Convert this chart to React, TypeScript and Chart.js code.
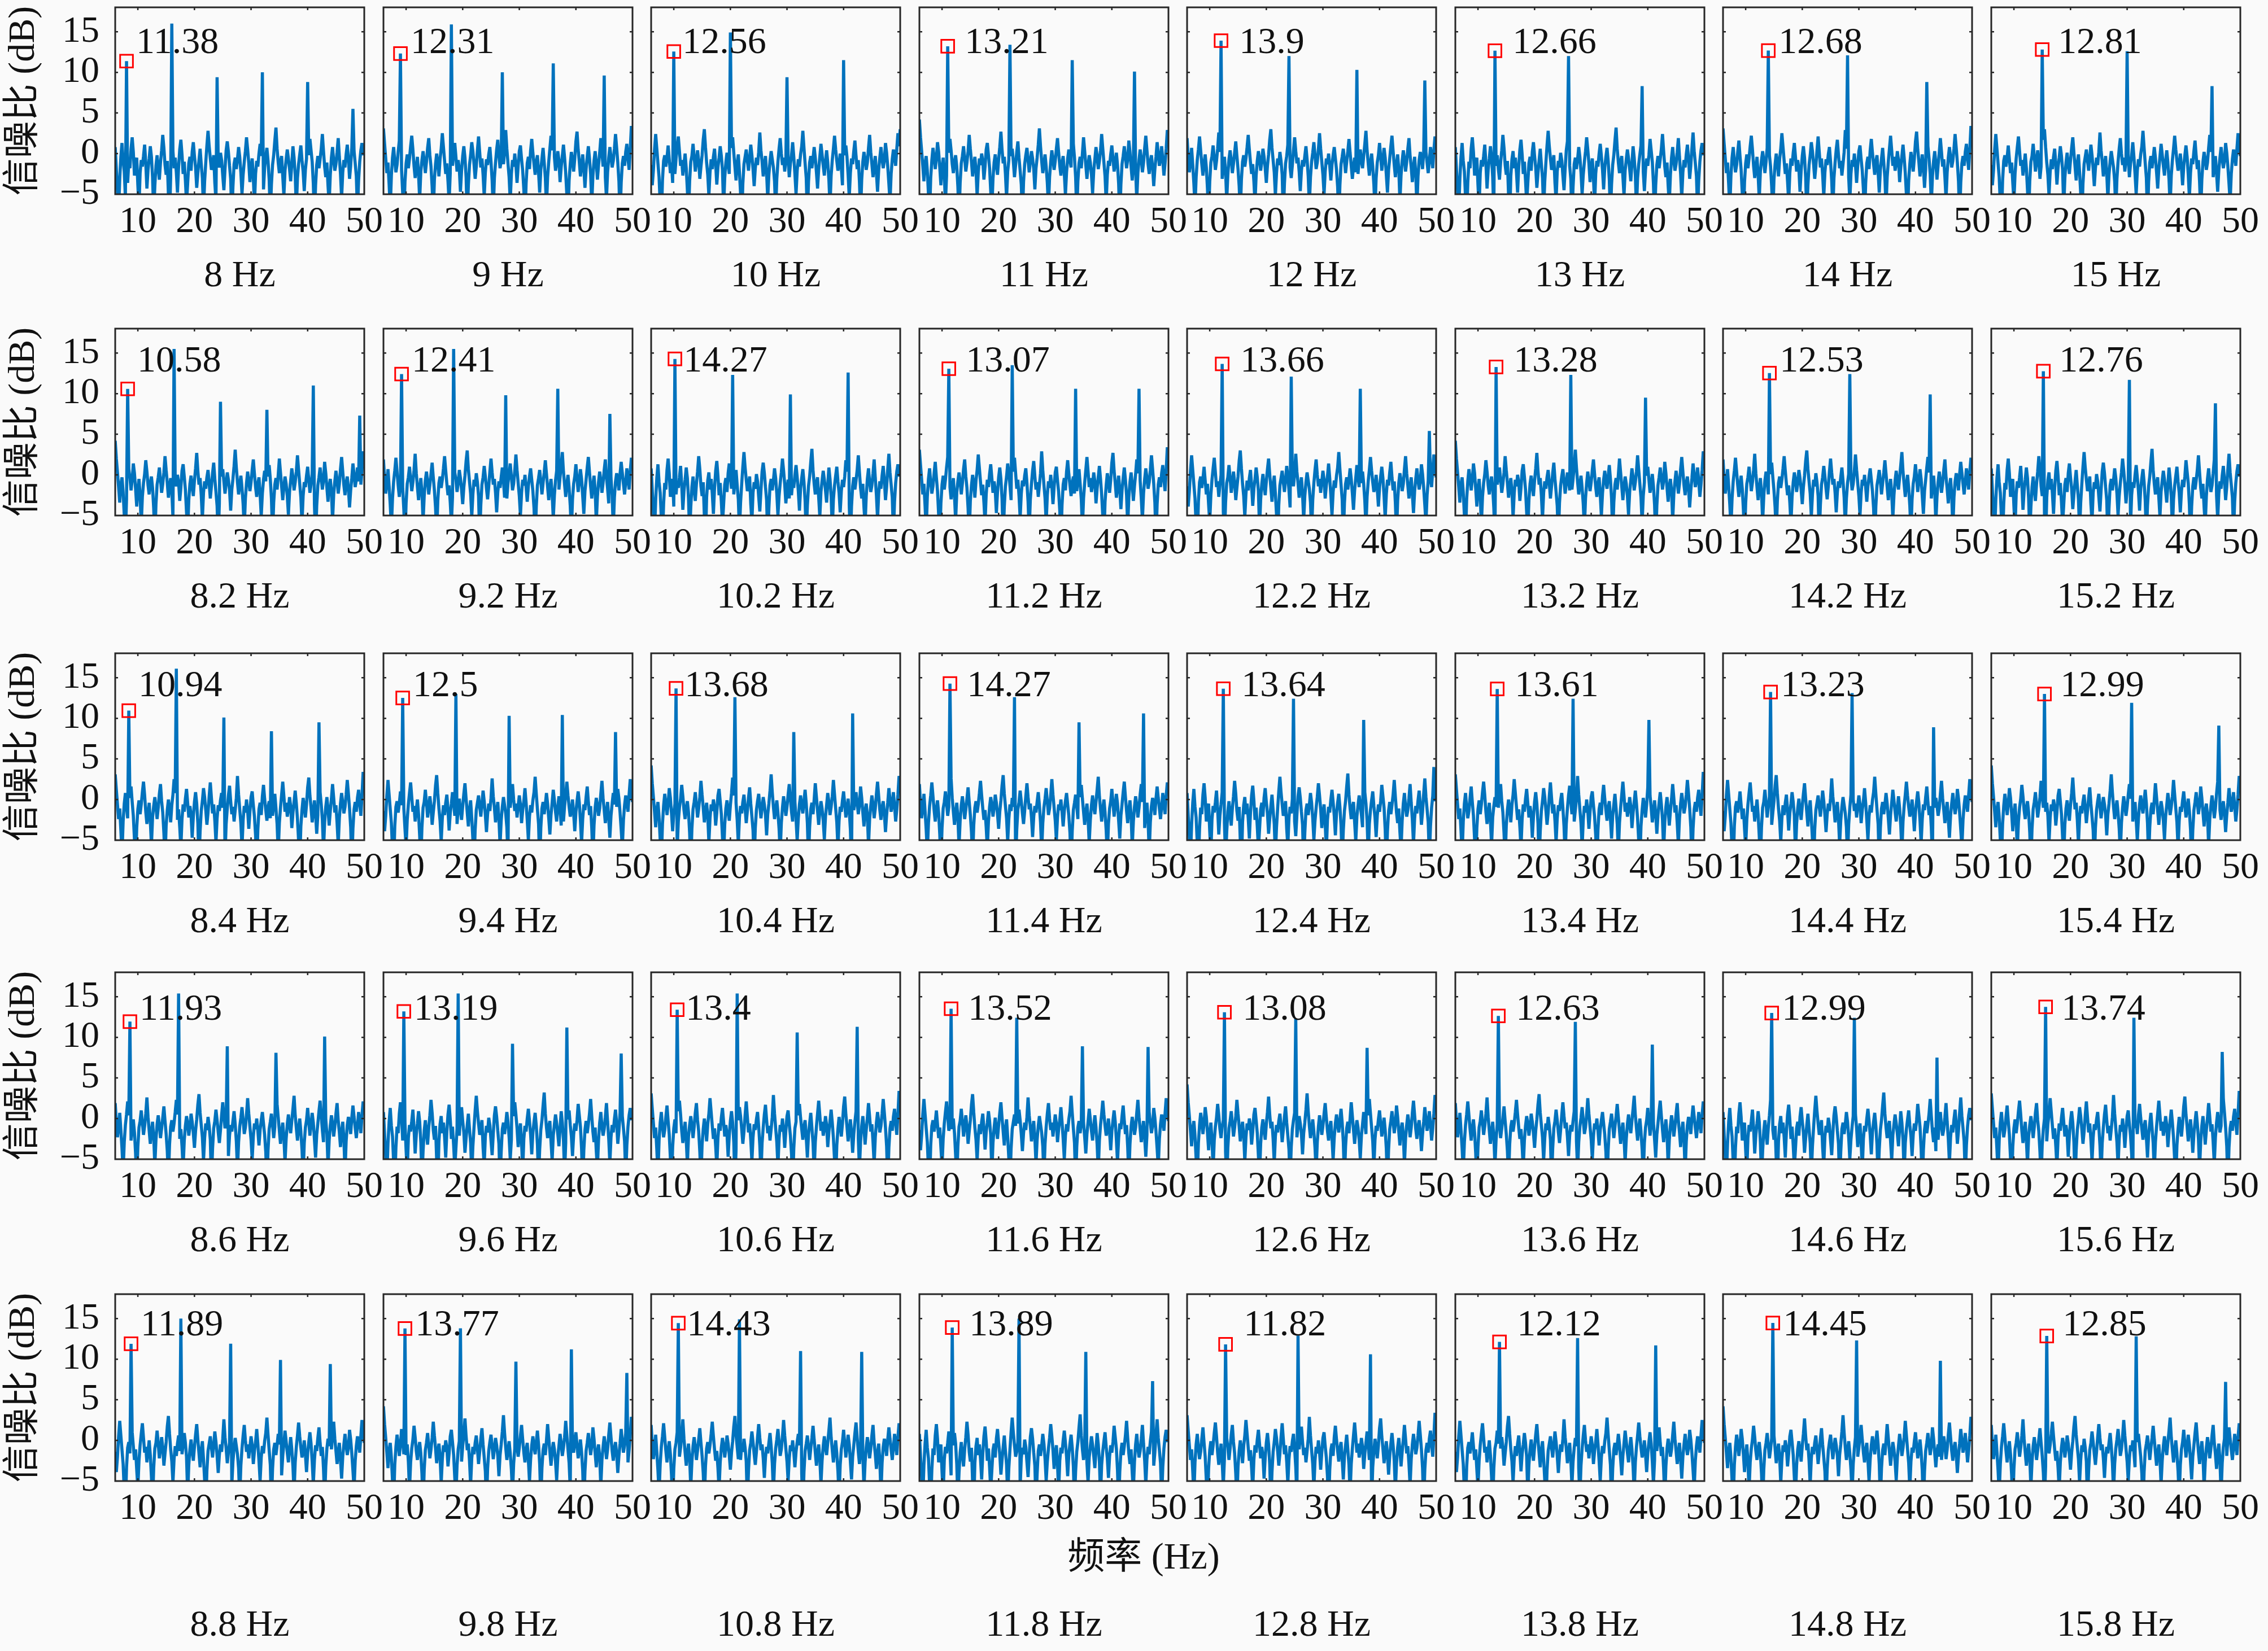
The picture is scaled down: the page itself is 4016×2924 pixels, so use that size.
import React, { useEffect, useRef } from "react";
import { Chart, registerables } from "chart.js";

Chart.register(...registerables);

// ---------------- DATA ----------------
const STIM_FREQS: number[][] = [
  [8, 9, 10, 11, 12, 13, 14, 15],
  [8.2, 9.2, 10.2, 11.2, 12.2, 13.2, 14.2, 15.2],
  [8.4, 9.4, 10.4, 11.4, 12.4, 13.4, 14.4, 15.4],
  [8.6, 9.6, 10.6, 11.6, 12.6, 13.6, 14.6, 15.6],
  [8.8, 9.8, 10.8, 11.8, 12.8, 13.8, 14.8, 15.8],
];

// SNR (dB) at the stimulation frequency (marked with the red square)
const FUND_SNR: number[][] = [
  [11.38, 12.31, 12.56, 13.21, 13.9, 12.66, 12.68, 12.81],
  [10.58, 12.41, 14.27, 13.07, 13.66, 13.28, 12.53, 12.76],
  [10.94, 12.5, 13.68, 14.27, 13.64, 13.61, 13.23, 12.99],
  [11.93, 13.19, 13.4, 13.52, 13.08, 12.63, 12.99, 13.74],
  [11.89, 13.77, 14.43, 13.89, 11.82, 12.12, 14.45, 12.85],
];

// SNR (dB) of the harmonics 2f, 3f, 4f, ...
const HARMONIC_SNR: number[][][] = [
  [[16.0, 9.4, 10.0, 8.8, 5.5], [15.9, 10.0, 11.1, 9.6], [14.9, 9.4, 11.5, 3.0], [13.4, 11.5, 10.1], [12.0, 10.3, 9.0], [12.0, 8.3], [12.1, 8.8], [12.6, 8.3]],
  [[15.5, 9.0, 8.0, 11.0, 7.3], [15.5, 9.8, 10.6, 7.5], [12.3, 9.9, 12.6], [13.5, 10.6, 10.6], [12.1, 10.6, 5.4], [12.3, 9.5], [12.4, 9.9], [11.7, 8.8]],
  [[16.1, 10.1, 8.4, 9.5], [13.0, 10.3, 10.4, 8.3], [12.6, 8.3, 10.6], [12.6, 9.5, 10.6], [12.4, 9.8, 4.0], [12.4, 9.8], [13.1, 8.9], [11.9, 9.1]],
  [[15.4, 8.9, 8.1, 10.1], [15.4, 9.2, 11.2, 8.0], [15.4, 10.6, 11.3], [12.4, 8.9, 8.8], [12.3, 8.7], [11.9, 9.1], [12.4, 7.5], [12.4, 8.2]],
  [[15.0, 11.9, 9.9, 9.4], [13.8, 9.7, 11.2, 8.3], [14.9, 11.0, 10.9], [15.0, 10.9, 7.3], [12.9, 10.6], [12.6, 11.7], [12.3, 9.8], [12.8, 7.2]],
];

// Background SNR spectra (dB), one value every 0.2 Hz from 6 Hz to 50 Hz
const FREQ_START = 6;
const FREQ_STEP = 0.2;

const NOISE_A = [
  0.8, -1.9, -4.6, -7.2, -3.1, -0.4, 1.3, -0.9, -2.2, -5.4,
  -8.0, -3.6, -1.0, -1.8, 0.6, 2.0, 0.2, -2.7, -1.3, -0.5,
  -3.9, -6.7, -2.4, -0.8, -1.6, -0.3, 1.1, -1.2, -4.3, -2.0,
  -0.6, 0.9, -0.4, -2.9, -7.5, -4.0, -1.5, -0.2, -1.9, -3.2,
  -1.1, 0.4, 2.3, 0.7, -1.4, -2.6, -0.9, -5.1, -8.3, -2.8,
  -0.7, 0.3, -1.8, -0.5, -2.3, -4.8, -1.6, 0.5, 1.7, -0.1,
  -2.5, -1.0, -3.3, -6.1, -3.7, -1.2, -0.4, -2.1, 0.2, 1.4,
  -0.3, -1.7, -4.2, -2.4, -0.8, 0.6, -1.3, -3.0, -7.0, -3.4,
  -1.1, 1.0, 2.8, 0.9, -0.6, -2.0, -1.4, -0.2, -3.6, -5.8,
  -2.2, -0.9, -1.7, 0.1, -0.8, -2.7, -4.5, -1.9, 0.4, 1.5,
  0.2, -1.5, -3.1, -8.1, -4.1, -1.3, -0.5, -1.9, -0.7, 0.8,
  -0.4, -2.3, -5.0, -2.6, -1.0, 0.3, 2.0, 0.5, -1.2, -3.5,
  -1.8, -0.6, -2.9, -6.4, -2.5, -0.9, -1.6, 0.0, 1.2, -0.3,
  -2.0, -4.4, -1.7, -0.4, 0.7, -0.9, -3.2, -7.7, -3.8, -1.4,
  -0.2, 1.6, 3.2, 0.6, -1.1, -2.4, -1.0, -0.3, -2.8, -5.2,
  -2.1, -0.7, 0.5, -0.6, -1.9, -3.4, -1.2, 0.9, -0.5, -2.6,
  -6.9, -3.0, -1.3, -0.1, 1.0, -0.8, -2.2, -4.6, -2.0, -0.6,
  -1.5, -0.2, 1.8, 0.4, -1.0, -3.7, -8.4, -3.9, -1.4, -0.3,
  -1.8, -0.7, 0.6, 2.4, 0.3, -1.6, -2.9, -1.1, -4.0, -6.2,
  -2.6, -0.5, 0.8, -0.9, -2.1, -1.3, 0.2, 1.9, -0.4, -2.5,
  -5.5, -2.3, -0.8, -1.7, -0.1, 1.1, -0.6, -3.1, -1.5, 0.7,
  2.6, 0.3, -1.2, -2.8, -7.3, -3.3, -1.0, 0.4, 1.3, -0.2,
  0.9,
];
const NOISE_B = [
  3.1, 1.2, -0.6, -2.4, -1.1, -3.8, -6.9, -2.7, -0.5, 0.8,
  -0.9, -2.3, -1.4, 0.2, 1.6, -0.3, -2.0, -4.9, -8.2, -3.5,
  -1.2, -0.1, -1.8, -0.6, 0.9, 2.2, 0.5, -1.5, -3.0, -1.7,
  -0.4, -2.6, -5.7, -2.2, -0.8, 0.3, -0.9, -2.4, -1.0, 0.7,
  1.9, -0.2, -1.6, -4.1, -7.6, -3.2, -1.3, 0.0, -1.1, -2.8,
  -0.7, 0.6, 2.5, 0.8, -0.9, -2.5, -1.2, -3.4, -6.0, -2.4,
  -0.6, -1.5, 0.1, 1.3, -0.4, -2.2, -0.8, -1.9, -4.7, -2.1,
  -0.3, 0.9, -0.5, -2.9, -8.0, -3.9, -1.4, -0.2, 1.4, 0.3,
  -1.3, -3.1, -1.6, 0.4, 2.1, 0.2, -1.7, -0.6, -2.6, -5.3,
  -2.3, -0.7, -1.4, -0.1, 0.8, -1.0, -3.3, -7.1, -3.0, -1.1,
  0.5, 1.7, -0.2, -1.8, -0.9, -2.7, -1.3, 0.2, 2.9, 0.6,
  -1.2, -2.9, -5.9, -2.5, -0.8, -1.6, 0.0, -1.4, -3.6, -1.5,
  0.3, 1.0, -0.7, -2.1, -4.4, -8.6, -3.7, -1.2, -0.4, -1.9,
  0.4, 1.8, 0.1, -1.3, -2.6, -1.0, -0.2, -2.3, -4.8, -2.0,
  -0.6, 0.7, -1.1, -3.0, -6.6, -2.9, -1.0, 0.6, 2.2, 0.4,
  -1.5, -0.4, -2.1, -1.2, 0.3, -0.8, -3.5, -1.7, -0.3, 1.1,
  -0.5, -2.4, -5.1, -7.9, -3.3, -1.3, 0.2, -0.9, -2.2, -0.6,
  1.5, 2.7, 0.5, -1.0, -2.8, -1.5, -0.1, -1.8, -4.2, -1.9,
  -0.4, 0.9, -0.6, -2.5, -6.3, -2.8, -0.9, 0.3, -1.2, -3.2,
  -1.4, 0.1, 1.9, 0.2, -1.6, -0.7, -2.9, -5.6, -2.3, -0.5,
  0.8, -0.4, -1.7, -0.9, 0.6, 2.4, 0.7, -1.1, -3.4, -8.1,
  -3.6, -1.2, -0.3, -1.5, 0.2, 1.2, -0.6, -2.0, 0.5, 3.4,
  1.8,
];
const NOISE_C = [
  -1.4, -3.9, -2.0, 0.5, 2.4, 0.6, -1.2, -2.9, -6.3, -8.4,
  -3.3, -0.9, -0.2, -1.6, -0.5, 1.0, -0.7, -2.4, -1.1, -3.6,
  -5.9, -2.5, -0.6, 0.8, 2.1, 0.3, -1.5, -0.8, -2.7, -1.3,
  0.0, -1.8, -4.5, -7.8, -3.4, -1.0, -0.3, 1.2, -0.4, -2.2,
  -1.0, 0.4, -0.9, -3.1, -1.6, -0.2, 1.7, 3.0, 0.8, -1.1,
  -2.6, -5.2, -2.3, -0.7, -1.9, -0.4, 0.6, -1.3, -3.8, -1.7,
  -0.5, 0.9, -0.3, -2.0, -6.8, -3.0, -1.1, 0.1, -1.4, -2.5,
  -0.8, 0.7, 2.0, 0.1, -1.6, -3.3, -1.2, -0.1, -2.3, -4.9,
  -8.5, -3.7, -1.3, -0.4, 0.5, -0.9, -2.1, -0.6, 1.1, -0.2,
  -1.9, -4.0, -1.8, -0.5, -1.4, 0.2, 2.6, 0.4, -1.0, -2.8,
  -1.5, -0.3, -2.4, -5.6, -2.6, -0.9, 0.3, -0.7, -1.7, -3.4,
  -7.2, -3.1, -1.0, 0.6, 1.9, 0.0, -1.4, -0.5, -2.2, -0.8,
  0.5, -0.6, -2.9, -1.3, -0.2, 1.4, -0.4, -2.5, -5.0, -2.1,
  -0.7, -1.6, -0.1, 0.9, 2.8, 0.7, -1.2, -3.0, -8.0, -3.5,
  -1.1, -0.3, -1.8, -0.6, 0.8, -0.5, -2.3, -4.3, -1.9, -0.4,
  1.2, -0.1, -1.5, -2.7, -1.0, 0.4, -1.1, -3.2, -6.5, -2.7,
  -0.8, 0.6, 2.2, 0.5, -0.9, -2.1, -1.4, 0.0, -1.7, -3.9,
  -1.6, -0.2, 1.0, -0.4, -2.6, -5.4, -2.4, -0.6, -1.3, 0.3,
  1.6, -0.3, -1.9, -0.8, -3.5, -7.4, -3.2, -1.0, 0.2, -0.7,
  -2.0, -1.1, 0.7, 2.3, 0.2, -1.3, -2.9, -1.5, -0.3, -2.4,
  -4.7, -2.0, -0.5, 0.8, -0.6, -1.8, -0.9, 1.3, 0.1, -1.6,
  -3.7, -6.0, -2.5, -0.7, 0.5, -0.4, -1.5, 0.6, 2.5, 0.9,
  -0.3,
];
const NOISE_D = [
  4.2, 2.0, 0.3, -1.5, -3.4, -1.2, -0.3, -2.1, -5.0, -7.7,
  -3.0, -0.8, 0.7, -0.4, -1.9, -0.6, 1.4, 0.2, -1.7, -3.9,
  -1.8, -0.5, -2.6, -6.2, -2.7, -1.0, 0.1, 1.8, 0.4, -1.3,
  -2.4, -1.0, -0.2, -1.6, -4.1, -8.2, -3.6, -1.2, -0.3, 0.9,
  -0.6, -2.2, -1.1, 0.3, 2.3, 0.6, -1.0, -2.8, -1.5, -0.4,
  -2.0, -5.3, -2.3, -0.6, -1.4, 0.0, -0.9, -3.2, -1.6, 0.5,
  1.3, -0.2, -1.8, -4.6, -7.0, -3.1, -1.1, -0.1, -1.5, -2.6,
  -0.7, 0.8, 2.7, 0.5, -1.2, -0.4, -2.5, -5.5, -2.2, -0.8,
  -1.7, -0.3, 0.6, -1.0, -2.9, -1.4, 0.2, 1.5, -0.5, -2.1,
  -3.8, -8.0, -3.5, -1.3, -0.2, 0.7, -0.8, -2.3, -1.0, 0.3,
  -0.6, -1.9, -4.4, -1.8, -0.5, 1.1, 3.1, 0.9, -0.9, -2.4,
  -1.3, -0.1, -1.6, -3.6, -6.6, -2.9, -1.0, 0.4, -0.7, -2.0,
  -0.9, 0.6, 1.9, 0.1, -1.5, -2.7, -1.1, -0.3, -2.4, -5.1,
  -2.3, -0.6, 0.5, -0.8, -1.7, -0.2, 1.2, -0.5, -2.9, -7.5,
  -3.4, -1.2, -0.4, -1.8, 0.0, 2.0, 0.3, -1.4, -3.1, -1.5,
  -0.2, -1.1, -2.6, -4.9, -2.1, -0.7, 0.8, -0.3, -1.9, -0.9,
  0.4, 2.4, 0.6, -1.1, -2.8, -6.0, -2.6, -0.9, -1.5, -0.1,
  1.0, -0.6, -2.2, -1.2, 0.1, -1.4, -3.7, -8.3, -3.8, -1.3,
  -0.3, 0.9, -0.4, -1.8, -0.7, 1.6, 0.2, -1.6, -3.3, -1.4,
  -0.5, -2.0, -5.7, -2.4, -0.8, 0.5, -0.6, -2.3, -1.1, 0.7,
  2.2, 0.4, -1.3, -2.5, -1.0, -0.2, -1.7, -4.0, -1.9, -0.4,
  1.4, 0.0, -1.5, -0.6, 0.9, -0.8, -2.7, -1.2, 0.6, 2.9,
  1.1,
];
const NOISE_E = [
  1.9, -0.5, -2.3, -1.0, 0.7, -1.4, -3.7, -6.6, -2.9, -0.8,
  0.5, 2.1, 0.4, -1.3, -2.7, -1.2, -0.1, -1.7, -4.3, -8.1,
  -3.5, -1.1, -0.3, 1.0, -0.5, -2.0, -0.9, 0.6, 2.6, 0.2,
  -1.5, -3.1, -1.6, -0.4, -2.2, -5.8, -2.6, -0.7, 0.4, -0.8,
  -2.4, -1.2, 0.1, 1.5, -0.3, -1.9, -4.0, -7.4, -3.2, -1.0,
  -0.2, -1.6, -0.6, 0.8, 2.3, 0.5, -1.1, -2.5, -1.3, -3.4,
  -6.1, -2.7, -0.9, 0.3, -0.6, -2.1, -1.0, 0.6, -0.4, -1.8,
  -3.6, -1.5, -0.1, 1.7, 3.0, 0.7, -0.8, -2.3, -5.2, -2.4,
  -0.6, -1.4, 0.2, -0.9, -2.6, -7.9, -3.7, -1.2, -0.3, 1.1,
  -0.2, -1.7, -3.0, -1.4, 0.4, 2.0, 0.3, -1.2, -0.5, -2.2,
  -4.6, -2.1, -0.8, -1.6, -0.3, 0.9, -0.7, -2.8, -6.4, -2.9,
  -1.0, 0.1, 1.4, -0.2, -1.9, -1.1, 0.5, 2.5, 0.6, -1.0,
  -2.6, -5.0, -2.2, -0.6, -1.3, 0.0, -1.5, -3.3, -1.4, -0.2,
  0.8, -0.6, -2.0, -4.1, -8.5, -3.9, -1.3, -0.4, 0.6, -0.8,
  -2.4, -1.0, 0.3, 1.8, 0.1, -1.5, -3.1, -1.6, -0.5, -2.3,
  -5.4, -2.5, -0.7, 0.5, -0.9, -1.8, -0.3, 1.2, 2.8, 0.4,
  -1.2, -2.7, -1.2, 0.0, -1.6, -3.8, -7.1, -3.0, -1.1, -0.2,
  1.3, -0.4, -2.1, -0.8, 0.7, -0.5, -2.6, -4.8, -2.0, -0.6,
  0.9, 2.2, 0.3, -1.4, -2.9, -1.3, -0.1, -1.9, -5.9, -2.7,
  -0.9, 0.4, -0.7, -2.2, -1.0, 0.6, 1.9, -0.3, -1.7, -3.5,
  -1.6, -0.4, -2.5, -6.7, -2.8, -0.8, 0.2, -0.6, -1.9, 0.1,
  1.6, 0.2, -1.1, -2.4, -0.9, 0.8, -0.5, -1.8, 0.4, 2.1,
  0.7,
];
const NOISE_SETS = [NOISE_A, NOISE_B, NOISE_C, NOISE_D, NOISE_E];
const NOISE_OF_CELL: number[][] = [
  [0, 1, 2, 3, 4, 0, 1, 2],
  [3, 4, 0, 1, 2, 3, 4, 0],
  [1, 2, 3, 4, 0, 1, 2, 3],
  [4, 0, 1, 2, 3, 4, 0, 1],
  [2, 3, 4, 0, 1, 2, 3, 4],
];

const X_MIN = 6;
const X_MAX = 50;
const Y_MIN = -5;
const Y_MAX = 18;
const X_TICKS = [10, 20, 30, 40, 50];
const Y_TICKS = [-5, 0, 5, 10, 15];
const Y_LABEL = "信噪比 (dB)";
const X_LABEL = "频率 (Hz)";

// ---------------- LAYOUT / STYLE ----------------
const FONT = '"Liberation Serif", "Noto Sans CJK SC", serif';
const FONT_SIZE = 66;
const TEXT_COLOR = "#111111";
const AXIS_COLOR = "#262626";
const LINE_COLOR = "#0072BD";
const MARKER_COLOR = "#FF0000";
const PLOT_LEFTS = [204, 679, 1153, 1628, 2102, 2577, 3051, 3526];
const PLOT_TOPS = [13, 582, 1157, 1722, 2292];
const PLOT_W = 441;
const PLOT_H = 331;
const LABEL_DX = [1.7, 1.8, 1.5, 3.0, 3.2, 3.1, 1.8, 2.8];
const TICK_LEN = 5;

Chart.defaults.font.family = FONT;

type Pt = { x: number; y: number };

function buildSpectrum(row: number, col: number): Pt[] {
  const f = STIM_FREQS[row][col];
  const noise = NOISE_SETS[NOISE_OF_CELL[row][col]];
  const peaks: Pt[] = [{ x: f, y: FUND_SNR[row][col] }];
  HARMONIC_SNR[row][col].forEach((v, i) => {
    const hx = f * (i + 2);
    if (hx <= X_MAX + 1e-9) peaks.push({ x: hx, y: v });
  });
  const pts: Pt[] = [];
  noise.forEach((v, i) => {
    const x = FREQ_START + i * FREQ_STEP;
    if (x > X_MAX + 1e-9) return;
    if (peaks.some((p) => Math.abs(p.x - x) < 0.09)) return;
    pts.push({ x, y: v });
  });
  return [...pts, ...peaks].sort((a, b) => a.x - b.x);
}

function Panel({ row, col }: { row: number; col: number }) {
  const ref = useRef<HTMLCanvasElement>(null);
  const firstCol = col === 0;
  const lastRow = row === PLOT_TOPS.length - 1;
  const padL = firstCol ? PLOT_LEFTS[0] : 24;
  const padR = 48;
  const padT = 80;
  const padB = lastRow ? 296 : 185;
  const w = PLOT_W + padL + padR;
  const h = PLOT_H + padT + padB;

  useEffect(() => {
    const f = STIM_FREQS[row][col];
    const snr = FUND_SNR[row][col];
    const labelY = Math.max(...FUND_SNR[row]) - 0.35;
    const decor = {
      id: "panelDecor",
      afterDatasetsDraw(chart: any) {
        const { ctx, chartArea: a } = chart;
        const xs = chart.scales.x;
        const ys = chart.scales.y;
        ctx.save();
        ctx.strokeStyle = AXIS_COLOR;
        ctx.lineWidth = 2.5;
        ctx.beginPath();
        X_TICKS.forEach((v) => {
          const px = xs.getPixelForValue(v);
          if (px < a.left + 2 || px > a.right - 2) return;
          ctx.moveTo(px, a.bottom);
          ctx.lineTo(px, a.bottom - TICK_LEN);
          ctx.moveTo(px, a.top);
          ctx.lineTo(px, a.top + TICK_LEN);
        });
        Y_TICKS.forEach((v) => {
          const py = ys.getPixelForValue(v);
          if (py < a.top + 2 || py > a.bottom - 2) return;
          ctx.moveTo(a.left, py);
          ctx.lineTo(a.left + TICK_LEN, py);
          ctx.moveTo(a.right, py);
          ctx.lineTo(a.right - TICK_LEN, py);
        });
        ctx.stroke();
        ctx.lineWidth = 3;
        ctx.strokeRect(a.left, a.top, a.right - a.left, a.bottom - a.top);
        ctx.font = `${FONT_SIZE}px ${FONT}`;
        ctx.fillStyle = TEXT_COLOR;
        ctx.textAlign = "left";
        ctx.textBaseline = "middle";
        ctx.fillText(String(snr), xs.getPixelForValue(f + LABEL_DX[col]), ys.getPixelForValue(labelY));
        ctx.restore();
      },
    };

    const tickFont = { family: FONT, size: FONT_SIZE, lineHeight: 1.2 };
    const chart = new Chart(ref.current as HTMLCanvasElement, {
      type: "line",
      data: {
        datasets: [
          {
            data: [{ x: f, y: snr }],
            order: 0,
            showLine: false,
            pointStyle: "rect",
            pointRadius: 16,
            pointBorderWidth: 3,
            pointBorderColor: MARKER_COLOR,
            pointBackgroundColor: "rgba(0,0,0,0)",
            borderColor: MARKER_COLOR,
          } as any,
          {
            data: buildSpectrum(row, col),
            order: 1,
            borderColor: LINE_COLOR,
            borderWidth: 5.5,
            borderJoinStyle: "bevel",
            pointRadius: 0,
            tension: 0,
            fill: false,
          } as any,
        ],
      },
      options: {
        animation: false,
        responsive: false,
        devicePixelRatio: 1,
        events: [],
        layout: { padding: { left: 0, right: padR, top: padT, bottom: 0 } },
        plugins: { legend: { display: false }, tooltip: { enabled: false }, title: { display: false } },
        scales: {
          x: {
            type: "linear",
            min: X_MIN,
            max: X_MAX,
            afterBuildTicks: (s: any) => {
              s.ticks = X_TICKS.map((v) => ({ value: v }));
            },
            afterFit: (s: any) => {
              s.height = padB;
              s.paddingLeft = 0;
              s.paddingRight = 0;
            },
            grid: { display: false, drawTicks: false },
            border: { display: false },
            ticks: {
              font: tickFont,
              color: TEXT_COLOR,
              padding: 10,
              maxRotation: 0,
              autoSkip: false,
              callback: (v: any) => String(v),
            },
            title: {
              display: true,
              text: `${f} Hz`,
              font: tickFont,
              color: TEXT_COLOR,
              padding: { top: 0, bottom: 0 },
            },
          },
          y: {
            type: "linear",
            min: Y_MIN,
            max: Y_MAX,
            display: firstCol,
            afterBuildTicks: (s: any) => {
              s.ticks = Y_TICKS.map((v) => ({ value: v }));
            },
            afterFit: (s: any) => {
              s.width = padL;
              s.paddingTop = 0;
              s.paddingBottom = 0;
            },
            grid: { display: false, drawTicks: false },
            border: { display: false },
            ticks: {
              font: tickFont,
              color: TEXT_COLOR,
              padding: 28,
              autoSkip: false,
              callback: (v: any) => (v < 0 ? "\u2212" + Math.abs(v) : String(v)),
            },
            title: {
              display: true,
              text: Y_LABEL,
              font: { family: FONT, size: FONT_SIZE, lineHeight: 1 },
              color: TEXT_COLOR,
              padding: { top: 10, bottom: 0 },
            },
          },
        },
      } as any,
      plugins: [decor],
    });
    return () => chart.destroy();
  }, [row, col]);

  return (
    <canvas
      ref={ref}
      width={w}
      height={h}
      style={{
        position: "absolute",
        left: PLOT_LEFTS[col] - padL,
        top: PLOT_TOPS[row] - padT,
        width: w,
        height: h,
      }}
    />
  );
}

export default function App() {
  useEffect(() => {
    document.body.style.margin = "0";
  }, []);
  const cells: JSX.Element[] = [];
  STIM_FREQS.forEach((rowFreqs, r) =>
    rowFreqs.forEach((_, c) => cells.push(<Panel key={`${r}-${c}`} row={r} col={c} />))
  );
  return (
    <div
      style={{
        position: "absolute",
        left: 0,
        top: 0,
        width: 4016,
        height: 2924,
        overflow: "hidden",
        background: "#fafafa",
      }}
    >
      {cells}
      <div
        style={{
          position: "absolute",
          left: 2025,
          top: 2756,
          transform: "translate(-50%, -50%)",
          fontFamily: FONT,
          fontSize: FONT_SIZE,
          lineHeight: 1,
          color: TEXT_COLOR,
          whiteSpace: "nowrap",
        }}
      >
        {X_LABEL}
      </div>
    </div>
  );
}
